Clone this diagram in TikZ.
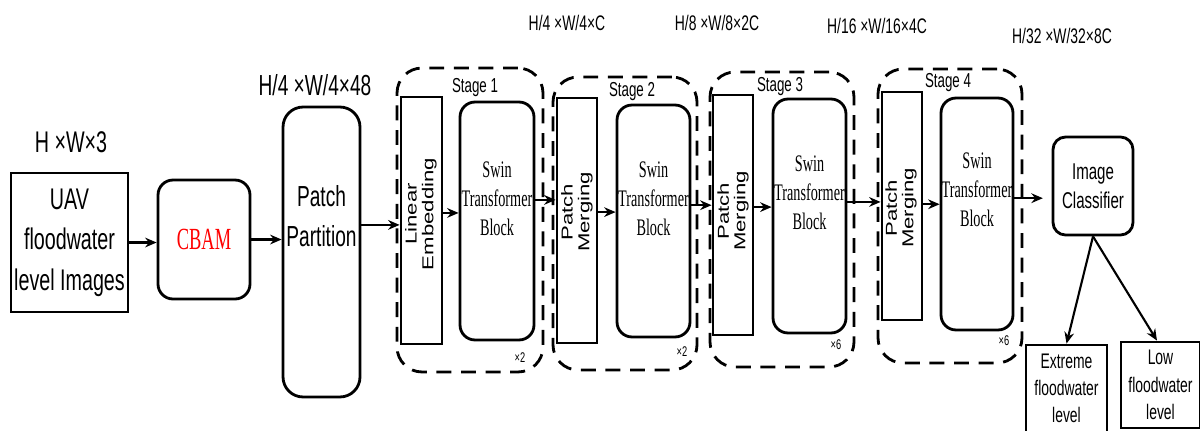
\documentclass[tikz,border=0pt]{standalone}
\usepackage{fontspec}
\setmainfont{Liberation Serif}
\newfontfamily\thinsans[FakeStretch=0.66]{Liberation Sans}
\newfontfamily\thinserif[FakeStretch=0.6]{Liberation Serif}
\newfontfamily\widesans[FakeStretch=1.4]{Liberation Sans}
\usetikzlibrary{arrows.meta,calc,positioning}

\begin{document}
\begin{tikzpicture}[x=0.02cm, y=-0.02cm,
  box/.style={draw, line width=1.6pt, inner sep=1pt, align=center},
  rbox/.style={box, rounded corners=0.3cm},
  stagebox/.style={draw, line width=1.6pt, dash pattern=on 8.5pt off 5.5pt, rounded corners=0.5cm},
  vtext/.style={rotate=90, align=center, font=\widesans\fontsize{9}{9.5}\selectfont},
  swintext/.style={align=center, font=\thinserif\fontsize{13.5}{16.5}\selectfont},
  dimtext/.style={font=\thinsans\fontsize{12}{13}\selectfont},
  stagetext/.style={font=\thinsans\fontsize{11.5}{13}\selectfont},
  reptext/.style={font=\thinsans\fontsize{8}{9}\selectfont},
  arr/.style={-{Stealth[length=6.5pt,width=5.5pt]}, line width=1.4pt}]
  \useasboundingbox (0,0) rectangle (1200,430);

  % Stage frames (dashed)
  \node[stagebox, minimum width=2.92cm, minimum height=6.08cm] (st1) at (470,220) {};
  \node[stagebox, minimum width=2.88cm, minimum height=5.86cm] (st2) at (625,223.5) {};
  \node[stagebox, minimum width=2.88cm, minimum height=5.9cm] (st3) at (782,219.5) {};
  \node[stagebox, minimum width=2.88cm, minimum height=5.88cm] (st4) at (950,216) {};
  \node[stagetext] (st1l) at (475,88) {Stage 1};
  \node[stagetext] (st2l) at (632,92) {Stage 2};
  \node[stagetext] (st3l) at (780,87) {Stage 3};
  \node[stagetext] (st4l) at (948,83) {Stage 4};

  % Input, attention and partition
  \node[font=\thinsans\fontsize{17}{18}\selectfont] (indim) at (71,142) {H ×W×3};
  \node[box, minimum width=2.34cm, minimum height=2.78cm, font=\thinsans\fontsize{17}{23}\selectfont] (uav) at (69.5,242.5) {UAV\\floodwater\\level Images};
  \node[rbox, minimum width=1.84cm, minimum height=2.38cm, text=red, font=\thinserif\fontsize{17.5}{20}\selectfont] (cbam) at (204,239.5) {CBAM};
  \node[box, rounded corners=0.4cm, minimum width=1.54cm, minimum height=5.8cm] (pp) at (321.5,252) {};
  \node[align=center, font=\thinsans\fontsize{16.5}{22.5}\selectfont] (ppt) at (321.5,216) {Patch\\Partition};
  \node[font=\thinsans\fontsize{16.5}{18}\selectfont] (ppdim) at (315,85) {H/4 ×W/4×48};

  % Stage 1
  \node[box, minimum width=0.82cm, minimum height=4.94cm] (le) at (421.5,220.5) {};
  \node[vtext] (let) at (421,214) {Linear\\Embedding};
  \node[rbox, minimum width=1.48cm, minimum height=4.76cm] (sw1) at (497,221) {};
  \node[swintext] (sw1t) at (497,199) {Swin\\Transformer\\Block};
  \node[reptext] (rep1) at (520,358) {×2};

  % Stage 2
  \node[box, minimum width=0.8cm, minimum height=4.9cm] (pm2) at (577,220.5) {};
  \node[vtext] (pm2t) at (577,212) {Patch\\Merging};
  \node[rbox, minimum width=1.46cm, minimum height=4.64cm] (sw2) at (653.5,221) {};
  \node[swintext] (sw2t) at (653.5,199) {Swin\\Transformer\\Block};
  \node[reptext] (rep2) at (682,352) {×2};

  % Stage 3
  \node[box, minimum width=0.8cm, minimum height=4.8cm] (pm3) at (733,215) {};
  \node[vtext] (pm3t) at (733,211) {Patch\\Merging};
  \node[rbox, minimum width=1.46cm, minimum height=4.68cm] (sw3) at (809.5,216) {};
  \node[swintext] (sw3t) at (809.5,193) {Swin\\Transformer\\Block};
  \node[reptext] (rep3) at (836,345) {×6};

  % Stage 4
  \node[box, minimum width=0.8cm, minimum height=4.56cm] (pm4) at (902,206) {};
  \node[vtext] (pm4t) at (901,208) {Patch\\Merging};
  \node[rbox, minimum width=1.44cm, minimum height=4.64cm] (sw4) at (977,214) {};
  \node[swintext] (sw4t) at (977,190) {Swin\\Transformer\\Block};
  \node[reptext] (rep4) at (1004,341) {×6};

  % Feature sizes
  \node[dimtext] (dim1) at (567,23) {H/4 ×W/4×C};
  \node[dimtext] (dim2) at (717,23) {H/8 ×W/8×2C};
  \node[dimtext] (dim3) at (877,26) {H/16 ×W/16×4C};
  \node[dimtext] (dim4) at (1062,36) {H/32 ×W/32×8C};

  % Classifier and outputs
  \node[rbox, rounded corners=0.25cm, minimum width=1.6cm, minimum height=1.96cm, font=\thinsans\fontsize{13}{16.5}\selectfont] (ic) at (1093,186) {Image\\Classifier};
  \node[box, minimum width=1.62cm, minimum height=1.74cm, font=\thinsans\fontsize{12}{15.5}\selectfont] (ext) at (1066.5,388.5) {Extreme\\floodwater\\level};
  \node[box, minimum width=1.58cm, minimum height=1.72cm, font=\thinsans\fontsize{12}{15.5}\selectfont] (low) at (1160.5,385) {Low\\floodwater\\level};

  % Flow arrows
  \draw[arr] (uav.east) -- (uav.east -| cbam.west);
  \draw[arr] (cbam.east) -- (cbam.east -| pp.west);
  \draw[arr] ([yshift=-2.5pt]le.west -| pp.east) -- ([yshift=-2.5pt]le.west);
  \draw[arr] ([yshift=4.3pt]le.east) -- ([yshift=4.3pt]le.east -| sw1.west);
  \draw[arr] ([yshift=12pt]sw1.east) -- ([yshift=12pt]sw1.east -| pm2.west);
  \draw[arr] ([yshift=4.8pt]pm2.east) -- ([yshift=4.8pt]pm2.east -| sw2.west);
  \draw[arr] ([yshift=9pt]sw2.east) -- ([yshift=9pt]sw2.east -| pm3.west);
  \draw[arr] ([yshift=4.5pt]pm3.east) -- ([yshift=4.5pt]pm3.east -| sw3.west);
  \draw[arr] ([yshift=8pt]sw3.east) -- ([yshift=8pt]sw3.east -| pm4.west);
  \draw[arr] ([yshift=1pt]pm4.east) -- ([yshift=1pt]pm4.east -| sw4.west);
  \draw[arr, shorten >=5pt] ([yshift=9pt]sw4.east) -- ([yshift=9pt]sw4.east -| ic.west);
  \draw[arr, line width=1.2pt] (ic.south) -- (ext.north);
  \draw[arr, line width=1.2pt] (ic.south) -- ([xshift=-2pt]low.north);
\end{tikzpicture}
\end{document}
